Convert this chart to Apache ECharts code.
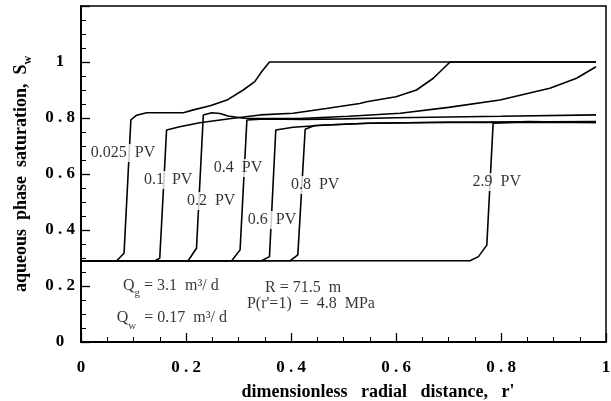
<!DOCTYPE html>
<html>
<head>
<meta charset="utf-8">
<script src="https://cdn.jsdelivr.net/npm/echarts@6/dist/echarts.min.js"></script>
<style>html,body{margin:0;padding:0;background:#fff}#c{width:611px;height:401px}</style>
</head>
<body>
<div id="c"></div>
<script>
// ---- data ----
var curve0025 = [[0,0.29],[0.068,0.29],[0.082,0.317],[0.095,0.793],[0.106,0.81],[0.125,0.819],[0.195,0.819],[0.214,0.829],[0.246,0.844],[0.278,0.864],[0.309,0.9],[0.331,0.93],[0.344,0.965],[0.359,1.0],[0.981,1.0]];
var curve01 = [[0,0.29],[0.141,0.29],[0.150,0.299],[0.163,0.757],[0.188,0.769],[0.226,0.783],[0.265,0.793],[0.29,0.799],[0.341,0.811],[0.404,0.817],[0.467,0.834],[0.531,0.852],[0.544,0.858],[0.60,0.876],[0.639,0.9],[0.671,0.942],[0.703,1.0],[0.981,1.0]];
var curve02 = [[0,0.29],[0.204,0.29],[0.220,0.335],[0.233,0.811],[0.249,0.819],[0.265,0.816],[0.28,0.807],[0.31,0.799],[0.417,0.798],[0.51,0.806],[0.608,0.817],[0.70,0.838],[0.798,0.864],[0.893,0.906],[0.944,0.942],[0.981,0.983]];
var curve04 = [[0,0.29],[0.287,0.29],[0.303,0.329],[0.316,0.793],[0.35,0.797],[0.42,0.795],[0.5,0.797],[0.6,0.801],[0.8,0.806],[0.981,0.811]];
var curve06 = [[0,0.29],[0.344,0.29],[0.359,0.305],[0.371,0.757],[0.404,0.767],[0.468,0.775],[0.55,0.781],[0.7,0.785],[0.981,0.787]];
var curve08 = [[0,0.29],[0.398,0.29],[0.413,0.311],[0.427,0.760],[0.445,0.773],[0.544,0.781],[0.7,0.785],[0.981,0.784]];
var curve29 = [[0,0.29],[0.741,0.29],[0.757,0.305],[0.773,0.346],[0.785,0.781],[0.85,0.787],[0.981,0.784]];

var curveLabels = [[0.080,0.675,'0.025  PV'],[0.166,0.579,'0.1  PV'],[0.248,0.504,'0.2  PV'],[0.299,0.621,'0.4  PV'],[0.364,0.436,'0.6  PV'],[0.446,0.561,'0.8  PV'],[0.792,0.571,'2.9  PV']];
var notes = [
  [0.171,0.200,'{m|Q}{s|g}{m| = 3.1  m³/ d}'],
  [0.173,0.085,'{m|Q}{s|w}{m|  = 0.17  m³/ d}'],
  [0.423,0.193,'{m|R = 71.5  m}'],
  [0.438,0.136,"{m|P(r'=1)  =  4.8  MPa}"]
];
var xTicks = [0,0.2,0.4,0.6,0.8,1];
var yTicks = [0,0.2,0.4,0.6,0.8,1];

var SERIF = "'Liberation Serif','Times New Roman',serif";
var chart = echarts.init(document.getElementById('c'), null, {renderer:'canvas'});

function spaced(v){
  var s = String(+v.toFixed(2));
  if (s === '0' || s === '1') return s;
  return s.split('').join(' ');
}
function lineSeries(d){
  return {type:'line', data:d, symbol:'none', smooth:false, z:2,
    lineStyle:{color:'#000', width:1.6}, animation:false};
}

chart.setOption({
  animation:false,
  backgroundColor:'#fff',
  grid:{left:81, right:5, top:6, bottom:59, containLabel:false, outerBoundsMode:'none',
    show:true, borderColor:'#000', borderWidth:1.5, backgroundColor:'transparent'},
  xAxis:{
    type:'value', min:0, max:1, interval:0.2,
    name:"dimensionless   radial   distance,   r'",
    nameLocation:'middle', nameGap:41,
    nameTextStyle:{fontFamily:SERIF, fontWeight:'bold', fontSize:18, color:'#000', padding:[0,0,0,69]},
    axisLine:{lineStyle:{color:'#000', width:2}},
    axisTick:{inside:true, length:9, lineStyle:{color:'#000', width:1.3}},
    minorTick:{show:true, splitNumber:4, length:5, lineStyle:{color:'#000', width:1}},
    splitLine:{show:false},
    axisLabel:{margin:17, fontFamily:SERIF, fontWeight:'bold', fontSize:17, color:'#000',
      formatter:function(v){ return xTicks.indexOf(+v.toFixed(2))>=0 ? spaced(v) : ''; }}
  },
  yAxis:{
    type:'value', min:0, max:1.2, interval:0.2,
    name:'{t|aqueous  phase  saturation,  S}{s|w}',
    nameLocation:'middle', nameGap:47,
    nameTextStyle:{color:'#000', rich:{
      t:{fontFamily:SERIF, fontWeight:'bold', fontSize:18, lineHeight:26, color:'#000'},
      s:{fontFamily:SERIF, fontWeight:'bold', fontSize:12, lineHeight:12, verticalAlign:'bottom', color:'#000'}
    }},
    axisLine:{lineStyle:{color:'#000', width:2}},
    axisTick:{inside:true, length:9, lineStyle:{color:'#000', width:1.3}},
    minorTick:{show:true, splitNumber:4, length:5, lineStyle:{color:'#000', width:1}},
    splitLine:{show:false},
    axisLabel:{margin:21, align:'center', fontFamily:SERIF, fontWeight:'bold', fontSize:17, color:'#000',
      formatter:function(v){ return yTicks.indexOf(+v.toFixed(2))>=0 ? spaced(v) : ''; }}
  },
  series:[
    lineSeries(curve0025), lineSeries(curve01), lineSeries(curve02), lineSeries(curve04),
    lineSeries(curve06), lineSeries(curve08), lineSeries(curve29),
    {type:'scatter', data:curveLabels, symbolSize:0, z:10, silent:true,
      label:{show:true, position:'inside', formatter:function(p){return p.data[2];},
        fontFamily:SERIF, fontSize:16, color:'#000', backgroundColor:'#fff', padding:[1,1]}},
    {type:'scatter', data:notes, symbolSize:0, z:10, silent:true,
      label:{show:true, position:'inside', formatter:function(p){return p.data[2];},
        rich:{
          m:{fontFamily:SERIF, fontSize:16, lineHeight:26, color:'#000'},
          s:{fontFamily:SERIF, fontSize:11, lineHeight:11, verticalAlign:'bottom', color:'#000'}
        }}}
  ]
});
</script>
</body>
</html>
